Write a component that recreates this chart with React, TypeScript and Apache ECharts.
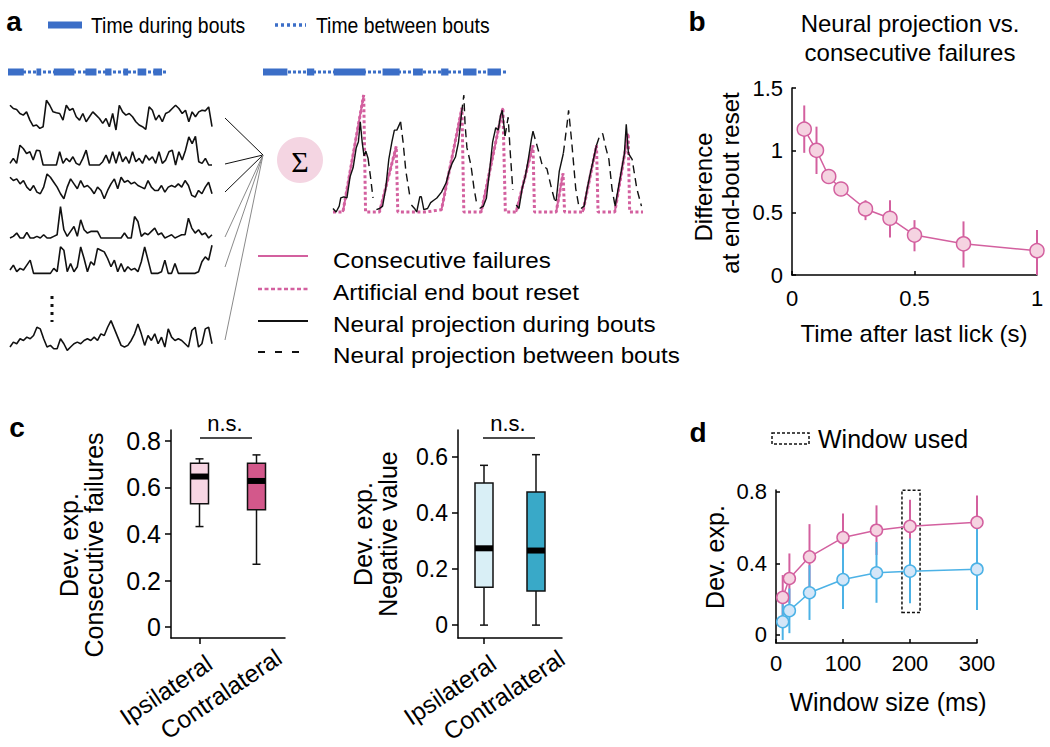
import React, { useEffect, useRef } from "react";
import * as echarts from "echarts";

// ---------------- DATA ----------------
// Panel a: bout timing (shared pattern, arbitrary time units 0..100)
const bouts: [number, number][] = [[0, 10], [18, 21], [29, 42], [49, 56], [61.5, 65.5], [73, 76], [82, 87.5], [92, 97.5]];

// Panel a: example neuron activity traces (arbitrary units)
const trace1 = [75,65,62,50,45,55,30,12,15,5,10,90,75,55,52,50,30,75,60,65,40,30,50,25,40,55,45,35,20,35,10,50,0,75,55,45,50,40,25,15,10,2,70,60,30,45,25,50,55,65,75,65,50,60,25,55,40,55,60,58,70,10];
const trace2 = [8,23,8,63,53,38,43,18,48,46,3,3,3,3,3,43,8,23,13,28,8,3,23,48,3,3,3,3,13,33,8,43,8,43,13,28,8,43,13,23,8,33,18,28,8,43,8,18,43,48,3,43,18,48,88,68,90,13,8,23,3,3];
const trace3 = [75,65,70,55,65,45,35,50,30,25,45,85,75,60,45,25,10,45,70,55,40,65,45,50,40,25,45,35,10,35,55,70,40,75,60,65,55,60,50,45,40,65,45,35,35,50,30,45,50,45,55,45,65,50,20,15,35,25,45,60,25];
const trace4 = [3,8,18,3,3,20,3,3,8,3,13,3,3,8,13,98,28,8,23,38,8,58,28,18,23,23,23,3,3,3,3,3,3,3,18,3,3,68,53,8,18,13,23,33,13,18,3,8,13,3,8,13,13,63,33,18,28,13,18,3,13];
const trace5 = [12,27,7,17,12,27,42,2,2,2,2,2,2,17,7,82,72,7,32,7,22,82,47,7,37,27,77,72,67,47,22,42,7,32,7,22,12,17,7,37,82,42,2,2,2,7,42,2,2,32,2,2,2,2,2,2,7,37,52,42,87];
const trace6 = [15,30,25,40,35,45,40,50,75,70,40,15,20,10,10,40,25,5,15,25,30,25,35,40,35,45,35,55,50,75,95,70,45,20,15,20,35,55,85,55,20,50,35,55,25,45,15,70,45,35,40,35,25,15,65,75,15,25,70,75,25];
const traces = [trace1, trace2, trace3, trace4, trace5, trace6];

// Panel a right: summed projection vs consecutive failures ([time, value])
const endBoutReset: number[][] = [[0,0],[3.2,0],[9.9,1],[10.5,0],[15,0],[20.4,0.56],[20.9,0],[30,0],[35,0.02],[41.6,0.89],[42.2,0],[47.8,0],[54.8,0.89],[55.6,0],[59.1,0],[64.5,0.57],[65,0],[72,0],[74.2,0.33],[74.7,0],[80.6,0],[85,0.57],[85.5,0],[90.9,0],[95.2,0.67],[95.7,0],[100,0]];
const consecutiveFailures: number[][][] = [
  [[3.2,0],[9.9,1]], [[15,0],[20.4,0.56]], [[35,0.02],[41.6,0.89]], [[47.8,0],[54.8,0.89]],
  [[59.1,0],[64.5,0.57]], [[72,0],[74.2,0.33]], [[80.6,0],[85,0.57]], [[90.9,0],[95.2,0.67]],
];
const projDuring: number[][][] = [
  [[0,0.03],[1,0],[2,0.05],[2.5,0.12],[3.5,0.13],[4.5,0.12],[5.5,0.3],[6.5,0.38],[7.5,0.55],[8.2,0.6],[8.8,0.77],[9.4,0.6],[10,0.48],[10.6,0.52],[11.3,0.46]],
  [[14,0.02],[15,0.03],[16,0.05],[17,0.2],[18,0.45],[19,0.6],[19.8,0.7],[20.6,0.7],[21.8,0.77]],
  [[25.3,0.06],[26.3,0.03],[27,0],[28,0.13],[28.5,0.13],[29.3,0.02],[30.5,0.03],[31.5,0.08],[32.5,0.1],[33.5,0.12],[35,0.17],[36.5,0.25],[37.5,0.35],[38.5,0.42],[39.5,0.47],[40.5,0.6],[41.5,0.85]],
  [[47.3,0.03],[48.5,0.05],[49.5,0.12],[50.5,0.35],[51.5,0.6],[52.5,0.72],[53.3,0.7],[54,0.82],[54.6,0.87],[55.5,0.65]],
  [[59.1,0.06],[60,0.03],[61,0.2],[62,0.3],[63,0.45],[64,0.62],[64.5,0.69]],
  [[71.5,0.1],[72,0.1],[73,0.35],[74.3,0.5]],
  [[80,0.03],[81,0.05],[82,0.2],[83,0.33],[84,0.45],[85,0.57]],
  [[91,0.05],[92,0.2],[93,0.35],[94,0.5],[94.6,0.75],[95.3,0.5]],
];
const projBetween: number[][][] = [
  [[11.3,0.46],[12.1,0.3],[12.9,0.12]],
  [[21.8,0.77],[22.6,0.6],[23.5,0.35],[24.7,0.15]],
  [[41.5,0.85],[42.2,1],[42.6,0.75],[43.2,0.55],[44.5,0.4],[45.5,0.2],[46.5,0.05]],
  [[55.5,0.65],[56.5,0.81],[57.2,0.5],[58,0.19]],
  [[64.5,0.69],[66,0.55],[67.5,0.4],[69,0.37],[70.5,0.2],[71.5,0.1]],
  [[74.3,0.5],[75.5,0.75],[76,0.87],[77,0.6],[78.3,0.2],[79.3,0.05]],
  [[85,0.57],[86,0.65],[87,0.67],[88,0.55],[89,0.45],[90,0.2],[91,0.05]],
  [[95.3,0.5],[96.5,0.45],[98,0.2],[99.5,0.05]],
];

// Panel b
const bX = [0.05, 0.1, 0.15, 0.2, 0.3, 0.4, 0.5, 0.7, 1.0];
const bY = [1.17, 1.0, 0.79, 0.69, 0.53, 0.455, 0.32, 0.25, 0.195];
const bLow = [0.98, 0.81, 0.76, 0.66, 0.44, 0.30, 0.19, 0.06, 0.0];
const bHigh = [1.36, 1.19, 0.82, 0.72, 0.60, 0.60, 0.44, 0.43, 0.36];
const bXTicks = [0, 0.5, 1];
const bYTicks = [0, 0.5, 1, 1.5];

// Panel c: [min, Q1, median, Q3, max]
const cCategories = ["Ipsilateral", "Contralateral"];
const cFailures = [[0.432, 0.53, 0.647, 0.704, 0.723], [0.27, 0.504, 0.628, 0.704, 0.74]];
const cNegative = [[0.0, 0.135, 0.274, 0.507, 0.57], [0.0, 0.122, 0.266, 0.475, 0.608]];
const cFailTicks = [0, 0.2, 0.4, 0.6, 0.8];
const cNegTicks = [0, 0.2, 0.4, 0.6];

// Panel d
const dX = [10, 20, 50, 100, 150, 200, 300];
const dPink = [0.21, 0.316, 0.437, 0.545, 0.586, 0.608, 0.63];
const dPinkLow = [0.085, 0.176, 0.254, 0.41, 0.447, 0.459, 0.48];
const dPinkHigh = [0.335, 0.456, 0.62, 0.68, 0.725, 0.757, 0.78];
const dBlue = [0.074, 0.136, 0.236, 0.31, 0.348, 0.357, 0.368];
const dBlueLow = [-0.028, 0.01, 0.084, 0.145, 0.18, 0.177, 0.14];
const dBlueHigh = [0.195, 0.26, 0.39, 0.484, 0.52, 0.54, 0.605];
const dXTicks = [0, 100, 200, 300];
const dYTicks = [0, 0.4, 0.8];
const windowUsed = 200;

// ---------------- STYLE ----------------
const FONT = "'Liberation Sans', Arial, Helvetica, sans-serif";
const BLUE = "#3b6ec7";
const PINK = "#d3609f";
const PINK_FILL = "#f5d3e1";
const LBLUE = "#4cb2e6";
const LBLUE_FILL = "#d4e6f8";
const BLACK = "#000";

const joinSegments = (segs: number[][][]) =>
  segs.flatMap((s, i) => (i === 0 ? s : [["-", "-"], ...s])) as any[];

const hiddenX = (gridIndex: number, min: number, max: number, type = "value") =>
  ({ gridIndex, type, min, max, show: false });
const hiddenY = hiddenX;

const txt = (text: string, x: number, y: number, size: number, extra: any = {}) => ({
  type: "text",
  x,
  y,
  rotation: extra.rotation || 0,
  scaleX: extra.scaleX || 1,
  style: {
    text,
    fill: BLACK,
    fontSize: size,
    fontFamily: extra.family || FONT,
    fontWeight: extra.weight || "normal",
    align: extra.align || "center",
    textAlign: extra.align || "center",
    verticalAlign: "middle",
    textVerticalAlign: "middle",
  },
  z: 10,
});
const seg = (x1: number, y1: number, x2: number, y2: number, stroke: string, lineWidth: number, lineDash?: number[]) => ({
  type: "line",
  shape: { x1, y1, x2, y2 },
  style: { stroke, lineWidth, lineDash },
  z: 10,
});

const axisCommon = (size: number, margin: number) => ({
  axisLine: { show: true, onZero: false, lineStyle: { color: BLACK, width: 1.5 } },
  axisLabel: { color: BLACK, fontSize: size, fontFamily: FONT, margin },
  splitLine: { show: false },
});

const errorBars = (xAxisIndex: number, xs: number[], lo: number[], hi: number[], color: string, width: number, z: number) => ({
  type: "custom",
  xAxisIndex,
  yAxisIndex: xAxisIndex,
  clip: false,
  z,
  data: xs.map((x, i) => [x, lo[i], hi[i]]),
  renderItem: (params: any, api: any) => {
    const p1 = api.coord([api.value(0), api.value(1)]);
    const p2 = api.coord([api.value(0), api.value(2)]);
    return { type: "line", shape: { x1: p1[0], y1: p1[1], x2: p2[0], y2: p2[1] }, style: { stroke: color, lineWidth: width } };
  },
});

const boxSeries = (idx: number, stats: number[][], fills: string[]) => ({
  type: "custom",
  xAxisIndex: idx,
  yAxisIndex: idx,
  clip: false,
  data: stats.map((s, i) => [i, ...s]),
  renderItem: (params: any, api: any) => {
    const i = api.value(0);
    const c = (v: number) => api.coord([i, v]);
    const x = c(api.value(1))[0];
    const yMin = c(api.value(1))[1];
    const yQ1 = c(api.value(2))[1];
    const yMed = c(api.value(3))[1];
    const yQ3 = c(api.value(4))[1];
    const yMax = c(api.value(5))[1];
    const w = 18;
    const cap = 8;
    const ls = { stroke: "#111", lineWidth: 1.5 };
    return {
      type: "group",
      children: [
        { type: "line", shape: { x1: x, y1: yMin, x2: x, y2: yQ1 }, style: ls },
        { type: "line", shape: { x1: x, y1: yQ3, x2: x, y2: yMax }, style: ls },
        { type: "line", shape: { x1: x - cap / 2, y1: yMax, x2: x + cap / 2, y2: yMax }, style: ls },
        { type: "line", shape: { x1: x - cap / 2, y1: yMin, x2: x + cap / 2, y2: yMin }, style: ls },
        { type: "rect", shape: { x: x - w / 2, y: yQ3, width: w, height: yQ1 - yQ3 }, style: { fill: fills[params.dataIndex], stroke: "#111", lineWidth: 1.5 } },
        { type: "rect", shape: { x: x - w / 2, y: yMed - 3, width: w, height: 6 }, style: { fill: "#000" } },
      ],
    };
  },
});

function buildOption(): any {
  const grids: any[] = [
    { left: 8, top: 66, width: 158, height: 12 }, // 0 bout bar left
    { left: 263, top: 66, width: 244, height: 12 }, // 1 bout bar right
    { left: 10, top: 97, width: 202, height: 33 }, // 2..7 traces
    { left: 10, top: 133, width: 202, height: 33 },
    { left: 10, top: 169, width: 202, height: 33 },
    { left: 10, top: 206, width: 202, height: 33 },
    { left: 10, top: 241, width: 202, height: 33 },
    { left: 10, top: 319, width: 202, height: 33 },
    { left: 333, top: 95, width: 310, height: 117 }, // 8 projection
    { left: 792, top: 88, width: 245, height: 187 }, // 9 panel b
    { left: 171, top: 430, width: 114, height: 208 }, // 10 panel c left
    { left: 458, top: 430, width: 104, height: 208 }, // 11 panel c right
    { left: 776, top: 490, width: 201, height: 153 }, // 12 panel d
  ];

  const catAxis = (gridIndex: number) => ({
    gridIndex, type: "category", data: cCategories, boundaryGap: true, ...axisCommon(25, 6),
    axisTick: { show: true, alignWithLabel: true, length: 6, lineStyle: { color: BLACK, width: 1.5 } },
    axisLabel: { show: false },
  });

  const xAxis: any[] = [
    hiddenX(0, 0, 100),
    hiddenX(1, 0, 100),
    ...traces.map((t, i) => ({ gridIndex: 2 + i, type: "category", boundaryGap: false, data: t.map((_, k) => k), show: false })),
    hiddenX(8, 0, 100),
    {
      gridIndex: 9, type: "value", min: 0, max: 1, ...axisCommon(22, 12),
      axisTick: { show: true, inside: true, length: 4, customValues: bXTicks, lineStyle: { color: BLACK, width: 1.5 } },
      axisLabel: { ...axisCommon(22, 12).axisLabel, customValues: bXTicks },
    },
    catAxis(10),
    catAxis(11),
    {
      gridIndex: 12, type: "value", min: 0, max: 300, ...axisCommon(22, 9),
      axisTick: { show: true, inside: true, length: 4, customValues: dXTicks, lineStyle: { color: BLACK, width: 1.5 } },
      axisLabel: { ...axisCommon(22, 9).axisLabel, customValues: dXTicks },
    },
  ];

  const yAxis: any[] = [
    hiddenY(0, -1, 1),
    hiddenY(1, -1, 1),
    ...traces.map((_, i) => hiddenY(2 + i, 0, 100)),
    hiddenY(8, 0, 1),
    {
      gridIndex: 9, type: "value", min: 0, max: 1.5, ...axisCommon(22, 9),
      axisTick: { show: true, inside: true, length: 4, customValues: bYTicks, lineStyle: { color: BLACK, width: 1.5 } },
      axisLabel: { ...axisCommon(22, 9).axisLabel, customValues: bYTicks },
    },
    {
      gridIndex: 10, type: "value", min: -0.047, max: 0.847, ...axisCommon(25, 10),
      axisTick: { show: true, length: 6, customValues: cFailTicks, lineStyle: { color: BLACK, width: 1.5 } },
      axisLabel: { ...axisCommon(25, 10).axisLabel, customValues: cFailTicks },
    },
    {
      gridIndex: 11, type: "value", min: -0.046, max: 0.696, ...axisCommon(23, 10),
      axisTick: { show: true, length: 6, customValues: cNegTicks, lineStyle: { color: BLACK, width: 1.5 } },
      axisLabel: { ...axisCommon(23, 10).axisLabel, customValues: cNegTicks },
    },
    {
      gridIndex: 12, type: "value", min: -0.045, max: 0.811, ...axisCommon(22, 9),
      axisTick: { show: true, inside: true, length: 4, customValues: dYTicks, lineStyle: { color: BLACK, width: 1.5 } },
      axisLabel: { ...axisCommon(22, 9).axisLabel, customValues: dYTicks },
    },
  ];

  const boutThick = bouts.flatMap(([s, e], i) => (i === 0 ? [[s, 0], [e, 0]] : [["-", "-"], [s, 0], [e, 0]])) as any[];
  const boutSeries = (idx: number) => [
    { type: "line", xAxisIndex: idx, yAxisIndex: idx, data: [[0, 0], [100, 0]], symbol: "none", clip: false, lineStyle: { color: BLUE, width: 3, type: [3, 2] }, z: 2 },
    { type: "line", xAxisIndex: idx, yAxisIndex: idx, data: boutThick, symbol: "none", clip: false, lineStyle: { color: BLUE, width: 7 }, z: 3 },
  ];

  const series: any[] = [
    ...boutSeries(0),
    ...boutSeries(1),
    ...traces.map((t, i) => ({
      type: "line", xAxisIndex: 2 + i, yAxisIndex: 2 + i, data: t, symbol: "none", clip: false,
      lineStyle: { color: "#111", width: 1.6 },
    })),
    { type: "line", xAxisIndex: 8, yAxisIndex: 8, data: joinSegments(consecutiveFailures), symbol: "none", clip: false, lineStyle: { color: PINK, width: 2 }, z: 2 },
    { type: "line", xAxisIndex: 8, yAxisIndex: 8, data: endBoutReset, symbol: "none", clip: false, lineStyle: { color: PINK, width: 3, type: [3, 2.5] }, z: 3 },
    { type: "line", xAxisIndex: 8, yAxisIndex: 8, data: joinSegments(projDuring), symbol: "none", clip: false, lineStyle: { color: "#111", width: 1.4 }, z: 4 },
    { type: "line", xAxisIndex: 8, yAxisIndex: 8, data: joinSegments(projBetween), symbol: "none", clip: false, lineStyle: { color: "#111", width: 1.4, type: [8, 5] }, z: 4 },
    // panel b
    errorBars(9, bX, bLow, bHigh, PINK, 2, 2),
    {
      type: "line", xAxisIndex: 9, yAxisIndex: 9, data: bX.map((x, i) => [x, bY[i]]), clip: false,
      symbol: "circle", symbolSize: 14, itemStyle: { color: PINK_FILL, borderColor: PINK, borderWidth: 1.5 },
      lineStyle: { color: PINK, width: 1.5 }, z: 3,
    },
    // panel c
    boxSeries(10, cFailures, ["#f7d6e3", "#d3588b"]),
    boxSeries(11, cNegative, ["#d9eff6", "#39a9c8"]),
    // panel d
    errorBars(12, dX, dPinkLow, dPinkHigh, PINK, 2, 2),
    errorBars(12, dX, dBlueLow, dBlueHigh, LBLUE, 2, 3),
    {
      type: "line", xAxisIndex: 12, yAxisIndex: 12, data: dX.map((x, i) => [x, dPink[i]]), clip: false,
      symbol: "circle", symbolSize: 12, itemStyle: { color: PINK_FILL, borderColor: PINK, borderWidth: 1.5 },
      lineStyle: { color: PINK, width: 1.5 }, z: 4,
      markArea: {
        silent: true,
        itemStyle: { color: "rgba(0,0,0,0)", borderColor: "#111", borderWidth: 1.5, borderType: [3, 2] },
        data: [[{ xAxis: windowUsed - 12, yAxis: 0.125 }, { xAxis: windowUsed + 15, yAxis: 0.81 }]],
      },
    },
    {
      type: "line", xAxisIndex: 12, yAxisIndex: 12, data: dX.map((x, i) => [x, dBlue[i]]), clip: false,
      symbol: "circle", symbolSize: 12, itemStyle: { color: LBLUE_FILL, borderColor: LBLUE, borderWidth: 1.5 },
      lineStyle: { color: LBLUE, width: 1.5 }, z: 5,
    },
  ];

  const fanTargets = [118, 164, 192, 237, 267, 340];
  // rotated category labels (centre positions of each label)
  const catLabelPos = [[[166, 690], [221, 694]], [[450, 690], [504, 695]]];
  const catLabels = catLabelPos.flatMap((panel) =>
    panel.map(([x, y], i) => txt(cCategories[i], x, y, 24.5, { rotation: (34 * Math.PI) / 180 }))
  );

  const graphic: any[] = [
    // panel letters
    txt("a", 14, 21, 28, { weight: "bold" }),
    txt("b", 697, 21, 28, { weight: "bold" }),
    txt("c", 17, 427, 28, { weight: "bold" }),
    txt("d", 698, 432, 28, { weight: "bold" }),
    // panel a top legend
    seg(48, 25, 82, 25, BLUE, 7),
    txt("Time during bouts", 91, 25, 22, { align: "left", scaleX: 0.88 }),
    seg(275, 25, 306, 25, BLUE, 3.5, [3, 3]),
    txt("Time between bouts", 316, 25, 22, { align: "left", scaleX: 0.88 }),
    // fan lines to sum
    ...fanTargets.map((y, i) => seg(225, y, 263, 155, i < 3 ? "#111" : "#8a8a8a", 1)),
    { type: "circle", shape: { cx: 300, cy: 160, r: 23 }, style: { fill: "#f4d5e2" }, z: 9 },
    txt("Σ", 300, 161, 30, { family: "'Liberation Serif', 'DejaVu Serif', serif" }),
    // vertical ellipsis
    seg(52, 296, 52, 322, "#111", 3, [3, 5]),
    // panel a lower legend
    seg(258, 256, 308, 256, PINK, 2),
    txt("Consecutive failures", 333, 260, 22, { align: "left", scaleX: 1.1 }),
    seg(258, 289, 308, 289, PINK, 2.5, [4, 2.5]),
    txt("Artificial end bout reset", 333, 292, 22, { align: "left", scaleX: 1.1 }),
    seg(258, 321, 308, 321, "#111", 2),
    txt("Neural projection during bouts", 333, 324, 22, { align: "left", scaleX: 1.1 }),
    seg(258, 352, 308, 352, "#111", 2, [7, 10]),
    txt("Neural projection between bouts", 333, 355, 22, { align: "left", scaleX: 1.1 }),
    // panel b
    txt("Neural projection vs.", 910, 23, 24),
    txt("consecutive failures", 910, 52, 24),
    txt("Difference", 703, 187, 24, { rotation: Math.PI / 2 }),
    txt("at end-bout reset", 730, 183, 24, { rotation: Math.PI / 2 }),
    txt("Time after last lick (s)", 914, 333, 24),
    // panel c
    txt("Dev. exp.", 69, 545, 25, { rotation: Math.PI / 2 }),
    txt("Consecutive failures", 94, 545, 25, { rotation: Math.PI / 2 }),
    txt("n.s.", 225, 423, 22),
    seg(200, 438, 252, 438, "#111", 1.5),
    txt("Dev. exp.", 363, 534, 25, { rotation: Math.PI / 2 }),
    txt("Negative value", 388, 534, 25, { rotation: Math.PI / 2 }),
    txt("n.s.", 508, 423, 22),
    seg(483, 438, 535, 438, "#111", 1.5),
    ...catLabels,
    // panel d
    { type: "rect", shape: { x: 772, y: 433, width: 37, height: 11 }, style: { fill: "none", stroke: "#111", lineWidth: 1.5, lineDash: [3, 2] }, z: 10 },
    txt("Window used", 818, 439, 25, { align: "left" }),
    txt("Dev. exp.", 715, 557, 25, { rotation: Math.PI / 2 }),
    txt("Window size (ms)", 888, 702, 25),
  ];

  return {
    animation: false,
    backgroundColor: "#fff",
    textStyle: { fontFamily: FONT },
    grid: grids,
    xAxis,
    yAxis,
    series,
    graphic,
  };
}

export default function App() {
  const ref = useRef<HTMLDivElement>(null);
  useEffect(() => {
    if (!ref.current) return;
    const chart = echarts.init(ref.current, null, { renderer: "svg" });
    chart.setOption(buildOption());
    return () => chart.dispose();
  }, []);
  return (
    <div
      ref={ref}
      style={{ position: "absolute", left: 0, top: 0, width: 1050, height: 747, background: "#fff" }}
    />
  );
}
